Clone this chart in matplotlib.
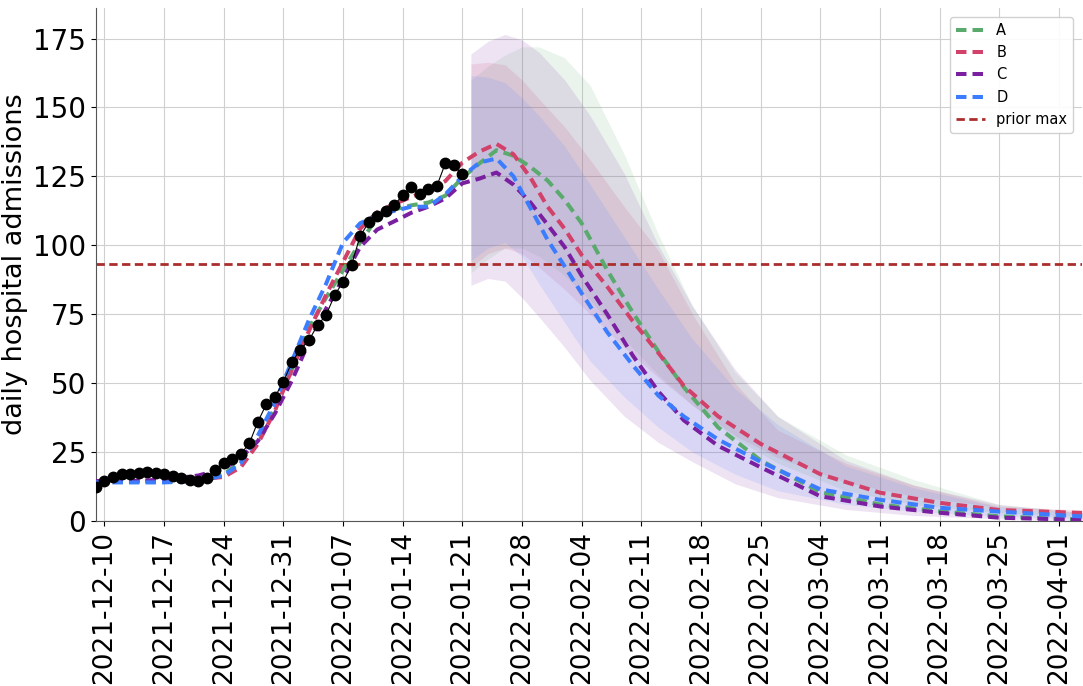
"""Daily hospital admissions: observed data, model fits and forecast bands."""

import matplotlib

matplotlib.use("Agg")
import matplotlib.dates as mdates
import matplotlib.pyplot as plt
import pandas as pd

OUT = "out.png"
DPI = 100

# observed daily admissions, 2021-12-09 .. 2022-01-21
obs_start = "2021-12-09"
obs_values = [
    12.4, 14.6, 15.8, 17.0, 16.9, 17.3, 17.6, 17.5, 17.0, 16.3, 15.7, 14.9,
    14.5, 15.7, 18.5, 20.9, 22.4, 24.3, 28.2, 36.0, 42.4, 45.0, 50.5, 57.7,
    62.2, 65.6, 71.0, 74.6, 81.9, 86.7, 93.0, 103.3, 108.3, 110.8, 112.3,
    114.5, 118.3, 121.0, 118.5, 120.3, 121.5, 129.7, 129.0, 125.7,
]

# model median curves (fit + forecast)
line_dates = [
    "2021-12-09", "2021-12-13", "2021-12-17", "2021-12-21", "2021-12-24",
    "2021-12-26", "2021-12-28", "2021-12-30", "2022-01-01", "2022-01-03",
    "2022-01-05", "2022-01-07", "2022-01-09", "2022-01-11", "2022-01-13",
    "2022-01-15", "2022-01-17", "2022-01-19", "2022-01-21", "2022-01-23",
    "2022-01-25", "2022-01-27", "2022-01-29", "2022-01-31", "2022-02-02",
    "2022-02-04", "2022-02-07", "2022-02-10", "2022-02-13", "2022-02-16",
    "2022-02-20", "2022-02-25", "2022-03-04", "2022-03-11", "2022-03-18",
    "2022-03-25", "2022-04-04",
]
line_a = [14.5, 14.5, 14.5, 15, 17, 21.5, 30, 41, 55, 70, 81, 91, 101, 110,
          113, 114.5, 115.5, 118, 124.5, 129.7, 134.5, 132.5, 128.4, 123.5,
          116.5, 108, 91, 75.6, 61.5, 48.5, 34, 22, 10.5, 6, 3.5, 1.7, 0.4]
line_b = [14.5, 14.5, 14.5, 15, 16, 19.5, 28, 40, 55, 69, 82, 94, 106, 112,
          115, 117.5, 120, 123.3, 130, 134, 136.8, 133, 124.5, 114, 106,
          96.5, 85, 72.5, 61, 49, 38, 28, 17, 10.3, 6.6, 4, 2.9]
line_c = [14.5, 14.5, 15, 16.5, 19, 23, 29, 39, 51, 65, 77, 88, 99.4, 105.7,
          108.7, 111.8, 114, 117, 122.5, 124.2, 126.4, 122, 115.5, 107.5,
          99.4, 89, 75, 60, 47, 36.5, 27.3, 19.5, 9, 5.3, 3, 1.2, 0.4]
line_d = [14, 14, 14, 14.5, 16.5, 21, 31, 43, 58, 73, 86, 101, 108, 110.8,
          112.5, 114, 114, 118.5, 125, 130, 131.5, 125, 113.5, 102, 92.4,
          82.6, 68.5, 56.5, 45.5, 37.9, 29.6, 21.5, 11.5, 7.7, 4.8, 3.4, 1.6]

# forecast uncertainty bands
band_dates = [
    "2022-01-22", "2022-01-24", "2022-01-26", "2022-01-28", "2022-01-30",
    "2022-02-02", "2022-02-05", "2022-02-09", "2022-02-13", "2022-02-17",
    "2022-02-22", "2022-02-27", "2022-03-07", "2022-03-15", "2022-03-25",
    "2022-04-04",
]
band_a_hi = [160, 165, 169, 172, 172, 168, 158, 133, 104, 78, 54, 38, 24, 15, 6, 3]
band_a_lo = [90, 95, 99, 99, 96, 89, 80, 66, 53, 42, 30, 21, 11, 6, 3, 1.5]
band_b_hi = [165.8, 166.4, 165.5, 160, 153, 143, 131, 114, 98, 75, 50, 33, 21, 13, 5.3, 4]
band_b_lo = [92, 97, 99, 97, 92, 84, 75, 63, 52, 42, 31, 23, 14, 9, 5, 2.5]
band_c_hi = [169.4, 174, 176.5, 174.5, 170, 160, 147, 126, 100, 78, 55, 38, 22, 13, 6, 3]
band_c_lo = [85.5, 88, 87, 81, 74, 63, 51, 38, 28.5, 21.5, 13.5, 8.5, 4.2, 2, 0.8, 0]
band_d_hi = [161.6, 161, 159, 153.5, 147, 136, 122, 103, 84, 66, 48, 35, 20, 12, 5, 2.5]
band_d_lo = [94.5, 99, 101, 96, 86, 72, 58, 45, 34, 25, 17, 11, 6, 3.5, 1.8, 0.8]

model_names = ["A", "B", "C", "D"]
model_colors = ["#5aaa6e", "#d24169", "#7a1fa0", "#3c7dff"]
prior_max = 93.3


def main() -> None:
    fig, ax = plt.subplots(figsize=(10.83, 6.86), dpi=DPI)
    fig.subplots_adjust(left=0.0886, right=0.999, top=0.988, bottom=0.2405)

    ldates = pd.to_datetime(line_dates)
    bdates = pd.to_datetime(band_dates)
    lines = [line_a, line_b, line_c, line_d]
    bands = [(band_a_lo, band_a_hi), (band_b_lo, band_b_hi),
             (band_c_lo, band_c_hi), (band_d_lo, band_d_hi)]

    for (lo, hi), color in zip(bands, model_colors):
        ax.fill_between(bdates, lo, hi, color=color, alpha=0.12, lw=0)

    for name, vals, color in zip(model_names, lines, model_colors):
        ax.plot(ldates, vals, color=color, lw=2.9, ls=(0, (2.6, 1.5)),
                label=name, zorder=3)

    obs_dates = pd.date_range(obs_start, periods=len(obs_values), freq="D")
    ax.plot(obs_dates, obs_values, color="black", lw=0.8, marker="o",
            markersize=7.5, zorder=4)

    ax.axhline(prior_max, color="#ab2e2e", lw=2, ls=(0, (3, 1.6)),
               label="prior max", zorder=2)

    ax.set_xlim(pd.Timestamp("2021-12-09"), pd.Timestamp("2022-04-03 17:00"))
    ax.set_ylim(0, 186)
    ax.set_yticks(range(0, 176, 25))
    ticks = pd.date_range("2021-12-10", "2022-04-01", freq="7D")
    ax.set_xticks(ticks)
    ax.xaxis.set_major_formatter(mdates.DateFormatter("%Y-%m-%d"))
    ax.tick_params(axis="x", labelsize=19, rotation=90)
    ax.tick_params(axis="y", labelsize=20)
    ax.set_ylabel("daily hospital admissions", fontsize=19.5)

    ax.grid(True, color="#d0d0d0", lw=0.8)
    ax.set_axisbelow(True)
    for side in ["top", "right"]:
        ax.spines[side].set_visible(False)
    for side in ["left", "bottom"]:
        ax.spines[side].set_color("#555555")

    ax.legend(loc="upper right", fontsize=10.5, framealpha=0.9,
              borderaxespad=0.6)

    fig.savefig(OUT, dpi=DPI)
    plt.close(fig)


if __name__ == "__main__":
    main()
